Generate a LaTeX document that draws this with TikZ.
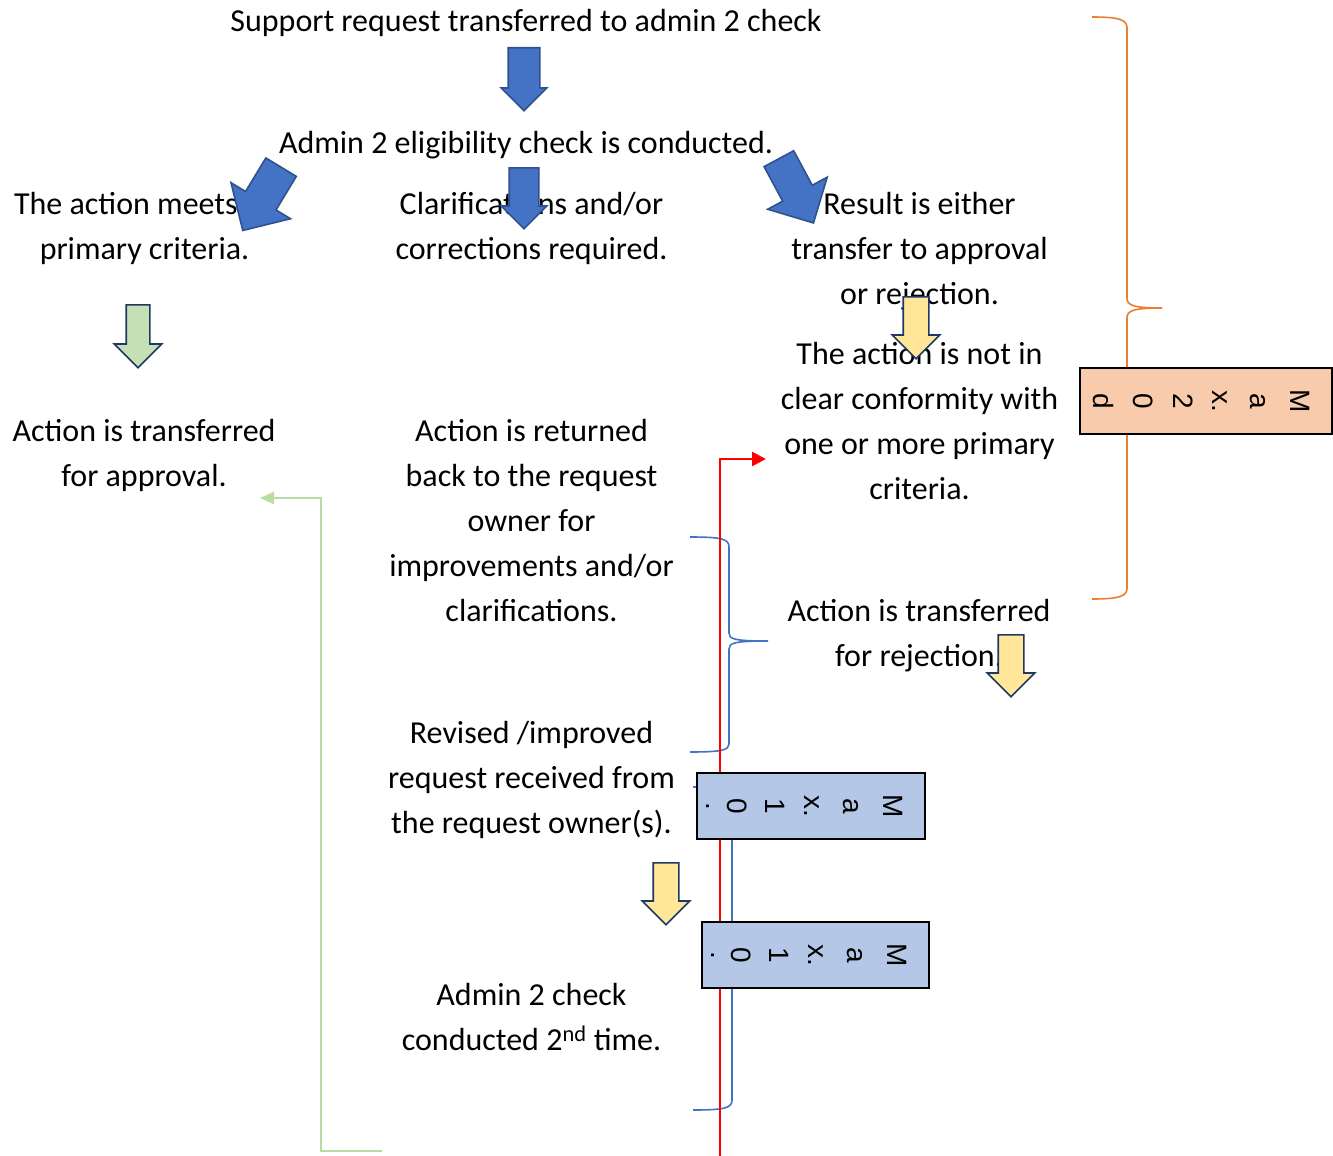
\documentclass[tikz,border=0pt]{standalone}
\usepackage{fontspec}
\setmainfont{Carlito}
\newfontfamily\boxfont{Liberation Sans}
\usetikzlibrary{shapes.arrows,arrows.meta}

\definecolor{arrowblue}{HTML}{4472C4}
\definecolor{arrowblueedge}{HTML}{2F528F}
\definecolor{edgenavy}{HTML}{203864}
\definecolor{softgreen}{HTML}{C5E0B4}
\definecolor{softyellow}{HTML}{FFE699}
\definecolor{boxblue}{HTML}{B4C7E7}
\definecolor{boxorange}{HTML}{F8CBAD}
\definecolor{braceorange}{HTML}{ED7D31}
\definecolor{linkgreen}{HTML}{B9DBA4}

\tikzset{
  txt/.style={font=\fontsize{32}{45}\selectfont, align=center, inner sep=0pt,
    anchor=north, execute at begin node=\strut},
  blockarrow/.style={shape=single arrow, single arrow tip angle=90,
    inner xsep=0pt, anchor=tail, line width=1.6pt},
  bluearrow/.style={blockarrow, fill=arrowblue, draw=arrowblueedge},
  greenarrow/.style={blockarrow, fill=softgreen, draw=edgenavy,
    minimum height=63pt, inner ysep=11pt, single arrow head extend=12pt},
  yellowarrow/.style={blockarrow, fill=softyellow, draw=edgenavy,
    minimum height=62pt, inner ysep=12pt, single arrow head extend=11pt},
  limitbox/.style={draw=black, line width=2pt, inner sep=0pt, minimum height=66pt},
  boxchar/.style={font=\boxfont\fontsize{28}{30}\selectfont, rotate=-90, inner sep=0pt},
  bracepath/.style={line width=1.6pt}
}

\begin{document}
\begin{tikzpicture}[x=1pt,y=-1pt]
\useasboundingbox (0,0) rectangle (1333,1156);

% curly braces
\draw[bracepath, braceorange] (1092,17) .. controls (1120,17) and (1127,20) .. (1127,28)
  -- (1127,298) .. controls (1127,305) and (1132,308) .. (1162,308)
  .. controls (1132,308) and (1127,311) .. (1127,318)
  -- (1127,588) .. controls (1127,596) and (1120,599) .. (1092,599);
\draw[bracepath, arrowblue] (690,537) .. controls (722,537) and (729,539) .. (729,547)
  -- (729,633) .. controls (729,639) and (734,641) .. (768,641)
  .. controls (734,641) and (729,643) .. (729,649)
  -- (729,744) .. controls (729,750) and (722,752) .. (690,752);
\draw[bracepath, arrowblue] (693,787) .. controls (725,787) and (732,789) .. (732,797)
  -- (732,940) .. controls (732,946) and (737,948) .. (770,948)
  .. controls (737,948) and (732,950) .. (732,956)
  -- (732,1100) .. controls (732,1108) and (725,1110) .. (693,1110);

% connectors
\coordinate (redfoot) at (720,1156);
\coordinate (redbend) at (720,459);
\coordinate (redtip) at (766,459);
\draw[red, line width=2.5pt, -{Triangle[length=14pt,width=14pt]}] (redfoot) -- (redbend) -- (redtip);

\coordinate (greenfoot) at (382,1151);
\coordinate (greenlow) at (321,1151);
\coordinate (greenhigh) at (321,498);
\coordinate (greentip) at (260,498);
\draw[linkgreen, line width=2.2pt, -{Triangle[length=14pt,width=12pt]}]
  (greenfoot) -- (greenlow) -- (greenhigh) -- (greentip);

% texts
\node[txt] (start) at (526,-0.5) {Support request transferred to admin 2 check};
\node[txt] (elig) at (526,121.5) {Admin 2 eligibility check is conducted.};
\node[txt] (meets) at (144.5,192.5) {The action meets all\\primary criteria.};
\node[txt] (clarify) at (531.5,192.5) {Clarifications and/or\\corrections required.};
\node[txt] (result) at (919.5,192.5) {Result is either\\transfer to approval\\or rejection.};
\node[txt] (notin) at (919.5,342.5) {The action is not in\\clear conformity with\\one or more primary\\criteria.};
\node[txt] (approval) at (144,419.5) {Action is transferred\\for approval.};
\node[txt] (returned) at (531.5,419.5) {Action is returned\\back to the request\\owner for\\improvements and/or\\clarifications.};
\node[txt] (rejection) at (919,599.5) {Action is transferred\\for rejection.};
\node[txt] (revised) at (531.5,721.5) {Revised /improved\\request received from\\the request owner(s).};
\node[txt] (second) at (531.5,983.5) {Admin 2 check\\conducted 2\textsuperscript{nd} time.};

% block arrows
\node[bluearrow, minimum height=63pt, inner ysep=15pt, single arrow head extend=7pt, rotate=-90] (a0) at (524,47) {};
\node[bluearrow, minimum height=74pt, inner ysep=17pt, single arrow head extend=17pt, rotate=-121.2] (a1) at (281.5,166.5) {};
\node[bluearrow, minimum height=61pt, inner ysep=14pt, single arrow head extend=8pt, rotate=-90] (a2) at (524,167) {};
\node[bluearrow, minimum height=73pt, inner ysep=16pt, single arrow head extend=17pt, rotate=-61.7] (a3) at (778.5,158) {};
\node[greenarrow, rotate=-90] (g1) at (138,304) {};
\node[yellowarrow, rotate=-90] (y1) at (916,296) {};
\node[yellowarrow, rotate=-90] (y2) at (1011,634) {};
\node[yellowarrow, rotate=-90] (y3) at (666,862) {};

% limit boxes with stacked characters
\node[limitbox, fill=boxblue, minimum width=228pt] (tenA) at (811,806) {};
\foreach \c/\px [count=\k] in {M/893, a/851, x./812, 1/775, 0/737, ./708}
  \node[boxchar] (tenA-\k) at (\px,806) {\c};
\node[limitbox, fill=boxblue, minimum width=227pt] (tenB) at (815.5,955) {};
\foreach \c/\px [count=\k] in {M/897, a/855, x./816, 1/779, 0/741, ./713}
  \node[boxchar] (tenB-\k) at (\px,955) {\c};
\node[limitbox, fill=boxorange, minimum width=252pt] (twenty) at (1206,401) {};
\foreach \c/\px [count=\k] in {M/1300, a/1258, x./1220, 2/1183, 0/1143, d/1103}
  \node[boxchar] (twenty-\k) at (\px,401) {\c};
\end{tikzpicture}
\end{document}
